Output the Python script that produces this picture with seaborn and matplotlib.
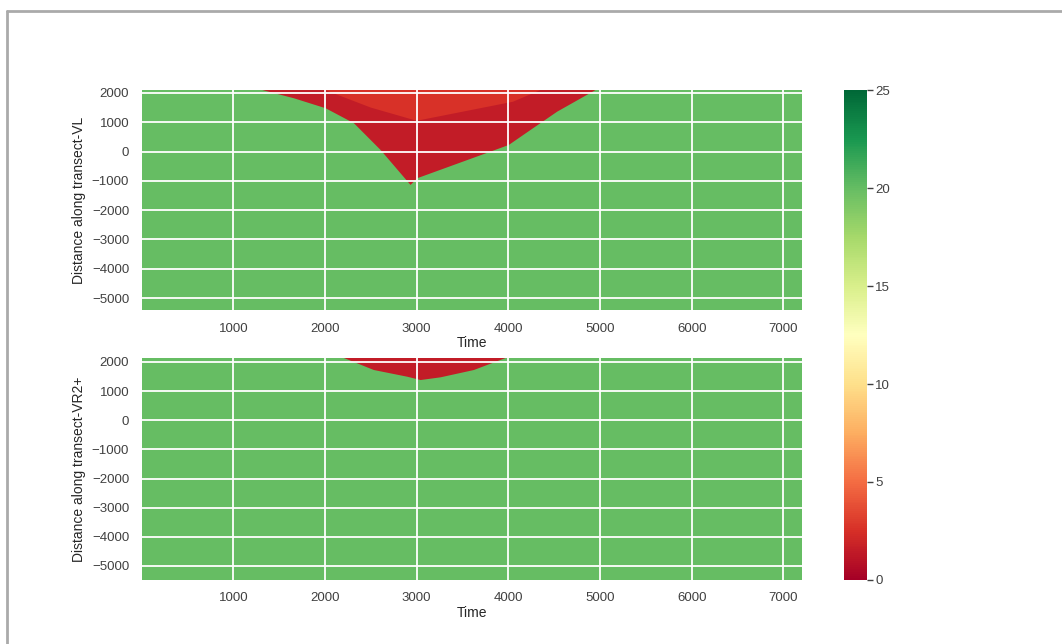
import numpy as np
import matplotlib
matplotlib.use("Agg")
from matplotlib import pyplot as plt
from matplotlib.lines import Line2D
import seaborn as sns

# background field value and extents of each panel
field_value = 20
time_edges = [0, 7200]
vl_dist_edges = [-5410, 2100]
vr_dist_edges = [-5480, 2137]

# low-value wedge, transect VL (outline)
vl_time = [1316, 1661, 2007, 2316, 2606, 2933, 3006, 4005, 4242, 4533, 4951]
vl_dist = [2100, 1819, 1478, 966, 55, -1140, -911, 225, 737, 1362, 2100]
vl_value = 1.5
# lighter band in the top of the VL wedge
vl_band_time = [2000, 4350, 4050, 3000, 2500]
vl_band_dist = [2100, 2100, 1700, 1050, 1500]
vl_band_value = 2.6

# low-value wedge, transect VR2+
vr_time = [2206, 2533, 2897, 3043, 3261, 3624, 3970]
vr_dist = [2137, 1725, 1495, 1381, 1474, 1725, 2137]
vr_value = 1.5

yticks = [2000, 1000, 0, -1000, -2000, -3000, -4000, -5000]
xticks = [1000, 2000, 3000, 4000, 5000, 6000, 7000]
cbar_ticks = [0, 5, 10, 15, 20, 25]

sns.set_theme(style="darkgrid")
plt.rcParams['font.family'] = ['Liberation Sans', 'DejaVu Sans']

cmap = plt.get_cmap("RdYlGn")
norm = matplotlib.colors.Normalize(vmin=0, vmax=25)

fig = plt.figure(figsize=(10.62, 6.44), dpi=100)
ax1 = fig.add_axes([0.1334, 0.5186, 0.6215, 0.3416])
ax2 = fig.add_axes([0.1334, 0.0994, 0.6215, 0.3447])
cax = fig.add_axes([0.7947, 0.0994, 0.0217, 0.7608])

panels = [
    (ax1, vl_dist_edges, [(vl_time, vl_dist, vl_value), (vl_band_time, vl_band_dist, vl_band_value)],
     "Distance along transect-VL"),
    (ax2, vr_dist_edges, [(vr_time, vr_dist, vr_value)], "Distance along transect-VR2+"),
]

for ax, dist_edges, wedges, label in panels:
    mesh = ax.pcolormesh(time_edges, dist_edges, np.array([[field_value]]), cmap=cmap, norm=norm)
    for t, d, v in wedges:
        ax.fill(t, d, color=cmap(norm(v)), lw=0)
    ax.set_xlim(time_edges)
    ax.set_ylim(dist_edges)
    ax.set_xticks(xticks)
    ax.set_yticks(yticks)
    ax.set_axisbelow(False)
    ax.grid(True, color="white", lw=1.3)
    ax.tick_params(labelsize=9.5, colors="0.25", pad=3)
    ax.set_xlabel("Time", fontsize=10, color="0.15", labelpad=1)
    ax.set_ylabel(label, fontsize=10, color="0.15", labelpad=4)
    for s in ax.spines.values():
        s.set_visible(False)

cb = fig.colorbar(mesh, cax=cax)
cb.set_ticks(cbar_ticks)
cb.outline.set_visible(False)
cax.tick_params(right=True, length=4, width=1, colors="0.25", labelsize=9.5, pad=2)
cax.grid(False)

# outer frame (only top and left edges visible)
fig.add_artist(Line2D([7 / 1062, 7 / 1062], [0, 1 - 11 / 644], color="#aaaaaa", lw=2, transform=fig.transFigure))
fig.add_artist(Line2D([7 / 1062, 1], [1 - 11 / 644, 1 - 11 / 644], color="#aaaaaa", lw=2, transform=fig.transFigure))

fig.savefig("out.png", dpi=100, facecolor="white")
